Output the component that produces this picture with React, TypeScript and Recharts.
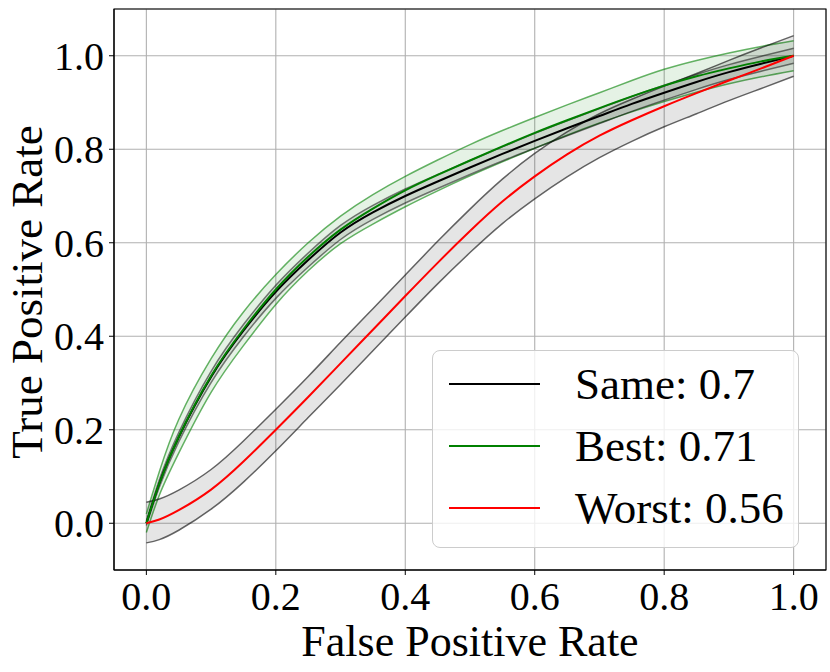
import React from "react";
import { ComposedChart, Line, Area, XAxis, YAxis, CartesianGrid, Legend, ReferenceArea } from "recharts";

// false positive rate grid shared by all curves
const fpr = [0, 0.02, 0.05, 0.1, 0.15, 0.2, 0.25, 0.3, 0.35, 0.4, 0.45, 0.5, 0.55, 0.6, 0.65, 0.7, 0.75, 0.8, 0.85, 0.9, 0.95, 1.0];

const sameMean = [0, 0.085, 0.184, 0.313, 0.412, 0.495, 0.563, 0.622, 0.665, 0.7, 0.731, 0.761, 0.79, 0.818, 0.845, 0.871, 0.897, 0.921, 0.944, 0.965, 0.983, 1.0];
const sameHi = [0.005, 0.093, 0.194, 0.325, 0.425, 0.509, 0.578, 0.637, 0.68, 0.715, 0.746, 0.776, 0.805, 0.834, 0.861, 0.887, 0.913, 0.937, 0.96, 0.981, 0.999, 1.016];
const sameLo = [-0.005, 0.077, 0.174, 0.301, 0.399, 0.481, 0.548, 0.607, 0.65, 0.685, 0.716, 0.746, 0.775, 0.802, 0.829, 0.855, 0.881, 0.905, 0.928, 0.949, 0.967, 0.984];

const bestMean = [0, 0.085, 0.185, 0.315, 0.415, 0.5, 0.57, 0.628, 0.673, 0.712, 0.745, 0.776, 0.806, 0.835, 0.862, 0.888, 0.913, 0.936, 0.956, 0.973, 0.988, 1.0];
const bestHi = [0.02, 0.11, 0.222, 0.352, 0.452, 0.532, 0.6, 0.657, 0.703, 0.742, 0.777, 0.81, 0.84, 0.868, 0.895, 0.921, 0.947, 0.971, 0.99, 1.006, 1.02, 1.032];
const bestLo = [-0.02, 0.06, 0.15, 0.28, 0.38, 0.468, 0.54, 0.598, 0.64, 0.677, 0.711, 0.743, 0.773, 0.802, 0.83, 0.856, 0.88, 0.902, 0.922, 0.94, 0.955, 0.968];

const worstMean = [0, 0.008, 0.028, 0.072, 0.132, 0.2, 0.27, 0.342, 0.414, 0.486, 0.557, 0.625, 0.688, 0.742, 0.789, 0.829, 0.862, 0.892, 0.92, 0.947, 0.973, 1.0];
const worstHi = [0.045, 0.052, 0.071, 0.115, 0.176, 0.244, 0.314, 0.387, 0.459, 0.531, 0.603, 0.672, 0.736, 0.791, 0.837, 0.876, 0.907, 0.935, 0.962, 0.99, 1.017, 1.043];
const worstLo = [-0.042, -0.035, -0.015, 0.03, 0.088, 0.155, 0.226, 0.297, 0.369, 0.441, 0.512, 0.579, 0.641, 0.694, 0.741, 0.782, 0.817, 0.848, 0.876, 0.904, 0.93, 0.956];

const xTicks = [0, 0.2, 0.4, 0.6, 0.8, 1.0];
const yTicks = [0, 0.2, 0.4, 0.6, 0.8, 1.0];
const legendOrder = ["Same: 0.7", "Best: 0.71", "Worst: 0.56"];

const rows = fpr.map((x, i) => ({
    fpr: x,
    same: sameMean[i],
    sameBand: [sameLo[i], sameHi[i]],
    best: bestMean[i],
    bestBand: [bestLo[i], bestHi[i]],
    worst: worstMean[i],
    worstBand: [worstLo[i], worstHi[i]],
}));

const FONT = "'Liberation Serif', 'DejaVu Serif', serif";

function LegendBox(props: any) {
    const items = (props.payload || [])
        .filter((p: any) => p.type !== "none")
        .sort((a: any, b: any) => legendOrder.indexOf(a.value) - legendOrder.indexOf(b.value));
    return (
        <div
            style={{
                position: "relative",
                boxSizing: "border-box",
                width: 367,
                height: 198,
                border: "1.3px solid #cccccc",
                borderRadius: 8,
                background: "rgba(255,255,255,0.8)",
                fontFamily: FONT,
            }}
        >
            {items.map((it: any, i: number) => (
                <div
                    key={it.value}
                    style={{
                        position: "absolute",
                        left: 0,
                        top: 2 + i * 62,
                        height: 62,
                        display: "flex",
                        alignItems: "center",
                    }}
                >
                    <div style={{ marginLeft: 16, width: 91, height: 2, background: it.color }} />
                    <span style={{ marginLeft: 35, fontSize: 45, lineHeight: 1, color: "#000", whiteSpace: "nowrap" }}>
                        {it.value}
                    </span>
                </div>
            ))}
        </div>
    );
}

export default function App() {
    const tickStyle = { fill: "#000", fontSize: 40, fontFamily: FONT };
    return (
        <div style={{ position: "absolute", left: 0, top: 0 }}>
            <ComposedChart
                width={830}
                height={672}
                data={rows}
                margin={{ top: 9, right: 4, bottom: 0, left: 0 }}
                style={{ fontFamily: FONT }}
            >
                <CartesianGrid stroke="#b0b0b0" strokeWidth={1.1} />
                <XAxis
                    type="number"
                    dataKey="fpr"
                    domain={[-0.05, 1.05]}
                    ticks={xTicks}
                    tickFormatter={(v) => v.toFixed(1)}
                    height={102}
                    stroke="#000"
                    tick={tickStyle}
                    tickSize={5}
                    tickMargin={7}
                    allowDataOverflow
                    label={{ value: "False Positive Rate", position: "insideBottom", offset: 16, fill: "#000", fontSize: 44 }}
                />
                <YAxis
                    type="number"
                    domain={[-0.1, 1.1]}
                    ticks={yTicks}
                    tickFormatter={(v) => v.toFixed(1)}
                    width={114}
                    stroke="#000"
                    tick={tickStyle}
                    tickSize={5}
                    tickMargin={5}
                    allowDataOverflow
                    label={{
                        content: () => (
                            <text x={42} y={292} transform="rotate(-90 42 292)" textAnchor="middle" fontSize={45} fill="#000">
                                True Positive Rate
                            </text>
                        ),
                    }}
                />
                <ReferenceArea x1={-0.05} x2={1.05} y1={-0.1} y2={1.1} fill="none" stroke="#000" strokeWidth={1.1} />

                <Area
                    type="natural"
                    dataKey="bestBand"
                    fill="#008000"
                    fillOpacity={0.1}
                    stroke="#008000"
                    strokeOpacity={0.6}
                    strokeWidth={1.5}
                    legendType="none"
                    isAnimationActive={false}
                />
                <Area
                    type="natural"
                    dataKey="sameBand"
                    fill="#000"
                    fillOpacity={0.1}
                    stroke="#000"
                    strokeOpacity={0.5}
                    strokeWidth={1.5}
                    legendType="none"
                    isAnimationActive={false}
                />
                <Area
                    type="natural"
                    dataKey="worstBand"
                    fill="#000"
                    fillOpacity={0.1}
                    stroke="#000"
                    strokeOpacity={0.6}
                    strokeWidth={1.5}
                    legendType="none"
                    isAnimationActive={false}
                />

                <Line type="natural" dataKey="same" name="Same: 0.7" stroke="#000" strokeWidth={2} dot={false} isAnimationActive={false} />
                <Line type="natural" dataKey="best" name="Best: 0.71" stroke="#008000" strokeWidth={2} dot={false} isAnimationActive={false} />
                <Line type="natural" dataKey="worst" name="Worst: 0.56" stroke="#ff0000" strokeWidth={2} dot={false} isAnimationActive={false} />

                <Legend
                    layout="vertical"
                    align="center"
                    verticalAlign="middle"
                    content={<LegendBox />}
                    wrapperStyle={{ left: 432, top: 350, width: 367, height: 198 }}
                />
            </ComposedChart>
        </div>
    );
}
